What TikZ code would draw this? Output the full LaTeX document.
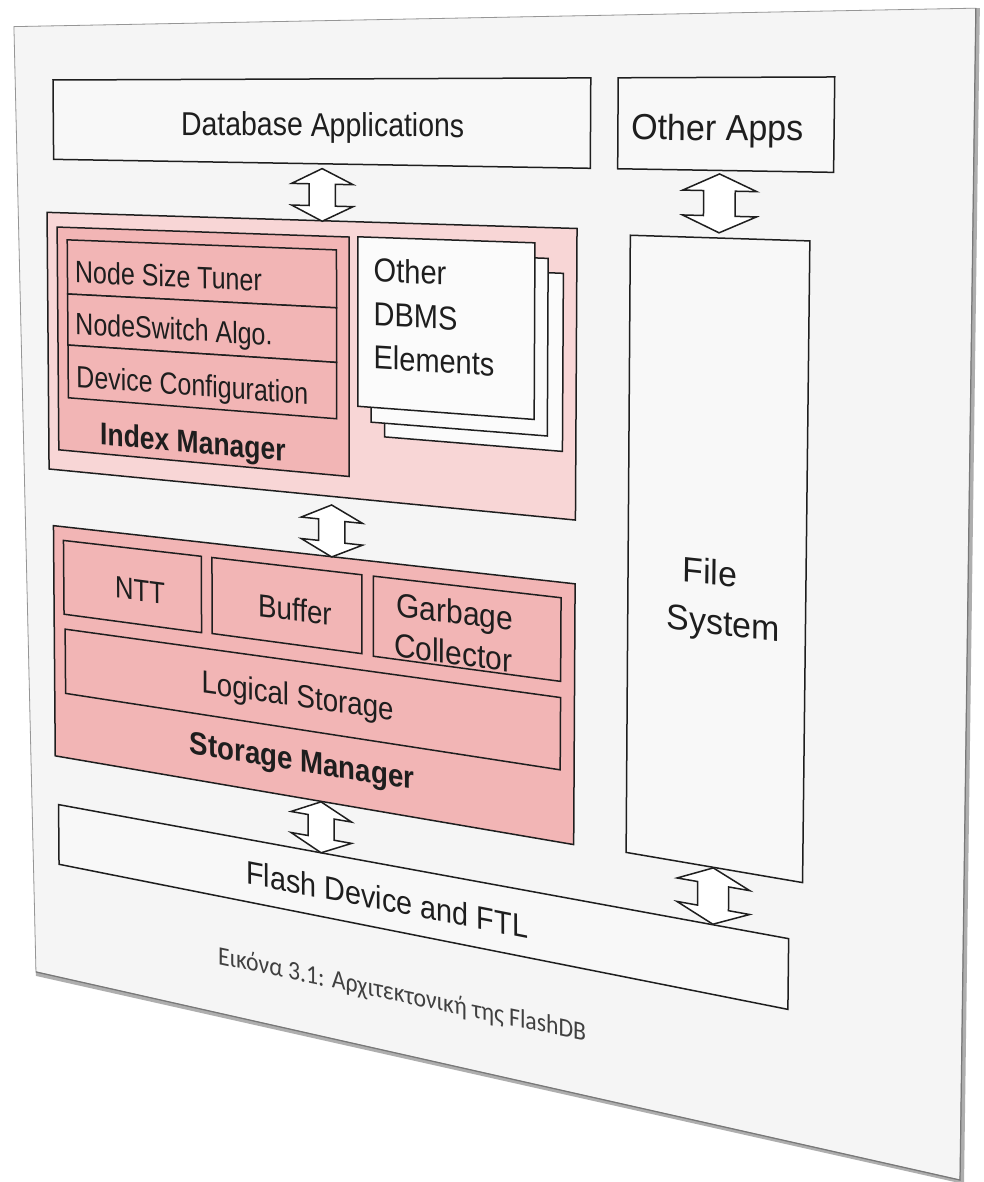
\documentclass[tikz,border=0pt]{standalone}
\usepackage{fontspec}
\setmainfont{Liberation Sans}
\newfontfamily\captionfont{Carlito}
\usetikzlibrary{calc}

\definecolor{pagefill}{RGB}{245,245,245}
\definecolor{boxfill}{RGB}{248,248,248}
\definecolor{sheetfill}{RGB}{251,251,251}
\definecolor{pinklight}{RGB}{248,214,214}
\definecolor{pinkmid}{RGB}{242,181,181}
\definecolor{ink}{RGB}{30,30,30}
\definecolor{pageline}{RGB}{150,150,150}
\definecolor{pageshade}{RGB}{120,120,120}

% ---------------------------------------------------------------
% A tilted sheet: flat sheet coordinates (u,v) are projected onto
% the canvas by a projective map (v grows downwards on the sheet).
% ---------------------------------------------------------------
\makeatletter
\def\fl@u{0}\def\fl@v{0}
\pgfkeys{/flat/.cd,u/.store in=\fl@u,v/.store in=\fl@v}
\newcommand\flcalc[2]{%
  \pgfmathsetmacro\fl@w{1-0.2592*(#1)/1000+0.02505*(#2)/1000}%
  \pgfmathsetmacro\fl@x{(0.9863*(#1)+0.009018*(#2)+53)/\fl@w}%
  \pgfmathsetmacro\fl@y{-(-0.02462*(#1)+1.002*(#2)+80)/\fl@w}%
}
\tikzdeclarecoordinatesystem{flat}{%
  \pgfkeys{/flat/.cd,#1}%
  \flcalc{\fl@u}{\fl@v}%
  \pgfpoint{\fl@x pt}{\fl@y pt}%
}
% text laid onto the sheet: local linearisation of the projection
\newcommand\ftext[5][]{%
  \flcalc{#3}{#4}\let\ft@x\fl@x\let\ft@y\fl@y
  \flcalc{#3+10}{#4}\let\ft@xu\fl@x\let\ft@yu\fl@y
  \flcalc{#3}{#4+10}\let\ft@xv\fl@x\let\ft@yv\fl@y
  \pgfmathsetmacro\ft@a{(\ft@xu-\ft@x)/10}%
  \pgfmathsetmacro\ft@b{(\ft@yu-\ft@y)/10}%
  \pgfmathsetmacro\ft@c{(\ft@x-\ft@xv)/10}%
  \pgfmathsetmacro\ft@d{(\ft@y-\ft@yv)/10}%
  \node[cm={\ft@a,\ft@b,\ft@c,\ft@d,(\ft@x pt,\ft@y pt)},transform shape,txt,#1] (#2) at (0,0) {#5};%
}
\makeatother

% rectangle on the sheet
\newcommand\frect[5][]{%
  \draw[#1] (flat cs:u=#2,v=#3) -- (flat cs:u=#4,v=#3) -- (flat cs:u=#4,v=#5) -- (flat cs:u=#2,v=#5) -- cycle;}

% hollow double-headed block arrow: name, centre u, top v, bottom v
\newcommand\farrow[4]{%
  \coordinate (#1-s) at (flat cs:u=#2,v=#3);
  \coordinate (#1-t) at (flat cs:u=#2,v=#4);
  \draw[barrow] (#1-s)
    -- (flat cs:u=#2+27,v=#3+14.5) -- (flat cs:u=#2+11.5,v=#3+14.5)
    -- (flat cs:u=#2+11.5,v=#4-14.5) -- (flat cs:u=#2+27,v=#4-14.5)
    -- (#1-t)
    -- (flat cs:u=#2-27,v=#4-14.5) -- (flat cs:u=#2-11.5,v=#4-14.5)
    -- (flat cs:u=#2-11.5,v=#3+14.5) -- (flat cs:u=#2-27,v=#3+14.5) -- cycle;}

\tikzset{
  outline/.style={draw=ink, line width=1.5pt, line join=miter},
  plainbox/.style={outline, fill=boxfill},
  sheetbox/.style={outline, fill=sheetfill},
  lightbox/.style={outline, fill=pinklight},
  pinkbox/.style={outline, fill=pinkmid},
  barrow/.style={outline, fill=white},
  txt/.style={inner sep=0pt, text height=22pt, text depth=0pt, xscale=0.8,
    font=\fontsize{31}{37}\selectfont, text=ink},
  boldtxt/.style={font=\fontsize{31}{37}\selectfont\bfseries},
  captxt/.style={font=\captionfont\fontsize{25.5}{30}\selectfont, text height=16.5pt, text=ink!85}
}

\begin{document}
\begin{tikzpicture}
\useasboundingbox (0,0) rectangle (984pt,-1182pt);
\fill[white] (0,0) rectangle (984pt,-1182pt);

% the sheet and its thick lower/right edge
\coordinate (pg-nw) at (flat cs:u=-39,v=-54);
\coordinate (pg-ne) at (flat cs:u=744,v=-55);
\coordinate (pg-se) at (flat cs:u=745.5,v=915.6);
\coordinate (pg-sw) at (flat cs:u=-24.6,v=918);
\fill[pageshade!60] (pg-nw) -- ([xshift=4pt]pg-ne) -- ([xshift=4pt,yshift=-4pt]pg-se)
  -- ([yshift=-4pt]pg-sw) -- cycle;
\filldraw[fill=pagefill, draw=pageline, line width=0.8pt]
  (pg-nw) -- (pg-ne) -- (pg-se) -- (pg-sw) -- cycle;
\draw[pageshade, line width=1.2pt] (pg-ne) -- (pg-se) -- (pg-sw);

% top row
\frect[plainbox]{0}{0}{472}{79.5}
\frect[plainbox]{493}{0}{650}{79.5}
\ftext{dbapps}{252}{42.5}{Database Applications}
\ftext{otherapps}{567}{42.8}{Other Apps}

% index layer
\frect[lightbox]{-7}{133}{462}{393.5}
\frect[pinkbox]{3}{147.5}{275}{373}
\frect[pinkbox]{13}{160}{264}{214.5}
\frect[pinkbox]{13}{214.5}{264}{266}
\frect[pinkbox]{13}{266}{264}{319.3}
\ftext[anchor=west]{tuner}{20.4}{191.7}{Node Size Tuner}
\ftext[anchor=west]{switch}{20.4}{243.6}{NodeSwitch Algo.}
\ftext[anchor=west]{devconf}{21}{297}{Device Configuration}
\ftext[boldtxt]{indexmgr}{133.6}{353}{Index Manager}

% stacked sheets of the other DBMS elements
\frect[sheetbox]{305.5}{173.3}{451.5}{332.8}
\frect[sheetbox]{294}{160.5}{439.5}{320}
\frect[sheetbox]{282.5}{147}{429}{306}
\ftext[anchor=west]{dbms1}{296}{177.5}{Other}
\ftext[anchor=west]{dbms2}{296}{218.5}{DBMS}
\ftext[anchor=west]{dbms3}{296}{258.5}{Elements}

% file system column
\frect[plainbox]{503}{137.5}{634}{687}
\ftext{fs1}{564.6}{427.3}{File}
\ftext{fs2}{574.6}{470.4}{System}

% storage layer
\frect[pinkbox]{-3}{451}{462}{688}
\frect[pinkbox]{7}{465}{141}{540.5}
\frect[pinkbox]{151}{465}{286}{540}
\frect[pinkbox]{296}{465}{451}{541}
\frect[pinkbox]{8}{555.7}{451}{621.7}
\ftext{ntt}{82.4}{505.9}{NTT}
\ftext{buffer}{226.9}{506.4}{Buffer}
\ftext{gc1}{365}{489.5}{Garbage}
\ftext{gc2}{363.6}{527.8}{Collector}
\ftext{logical}{229.1}{588.7}{Logical Storage}
\ftext[boldtxt]{storagemgr}{233}{651.2}{Storage Manager}

% device
\frect[plainbox]{0}{738}{624.5}{800}
\ftext{flash}{308}{771.2}{Flash Device and FTL}

% connectors between the layers
\farrow{a1}{251.5}{84}{133.5}
\farrow{a2}{259.6}{401.7}{451.3}
\farrow{a3}{569}{82.5}{133}
\farrow{a4}{250}{688.5}{738}
\farrow{a5}{569}{687.5}{737.5}

% caption
\ftext[captxt]{caption}{321}{859}{Εικόνα 3.1: Αρχιτεκτονική της FlashDB}
\end{tikzpicture}
\end{document}
